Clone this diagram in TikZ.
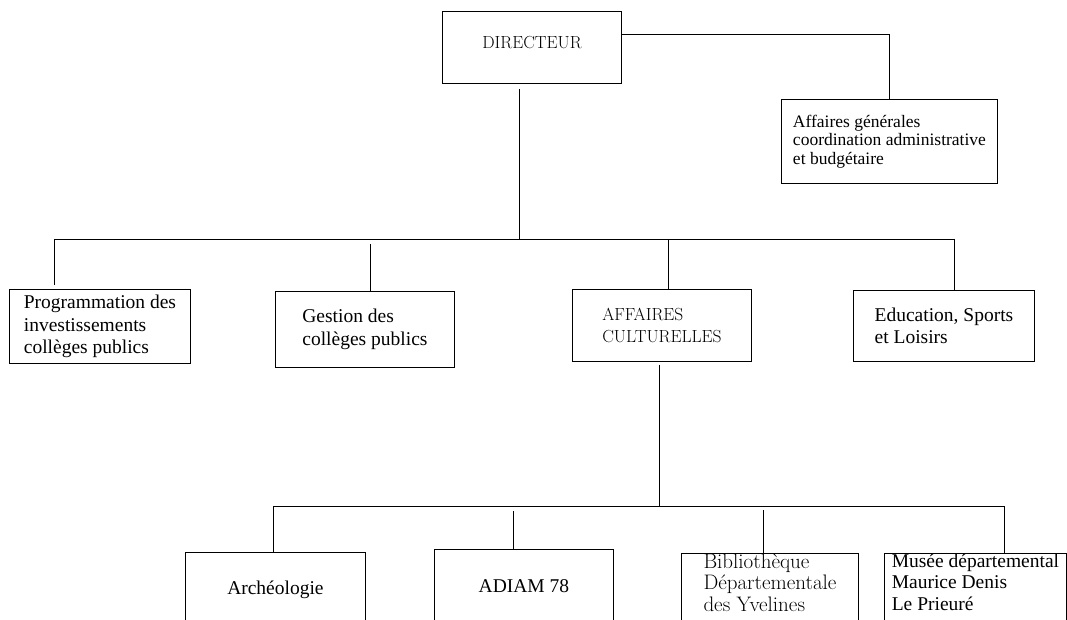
\documentclass[tikz,border=0pt]{standalone}
\usepackage{fontspec}
\newfontfamily\tnr{Liberation Serif}

\begin{document}
\begin{tikzpicture}[x=1pt, y=-1pt, line width=0.9pt,
    unit/.style={draw, anchor=north west, align=left, inner sep=0pt, font=\tnr\fontsize{19.5}{22.5}\selectfont},
    light/.style={unit, font=\fontsize{17.5}{21.7}\selectfont}]
    \useasboundingbox (0,0) rectangle (1067,620);
    \clip (0,0) rectangle (1067,620);

    \node[light, minimum width=179pt, minimum height=72pt, text depth=10pt] (dir) at (442,11) {DIRECTEUR};
    \node[unit, minimum width=216pt, minimum height=84pt, font=\tnr\fontsize{17.5}{18.5}\selectfont] (ag) at (781,99) {Affaires générales\\coordination administrative\\et budgétaire};

    \node[unit, minimum width=181pt, minimum height=74pt] (prog) at (9,289) {Programmation des\\investissements\\collèges publics};
    \node[unit, minimum width=179pt, minimum height=76pt] (gest) at (275,291) {Gestion des\\collèges publics};
    \node[light, minimum width=179pt, minimum height=72pt] (cult) at (572,289) {AFFAIRES\\CULTURELLES};
    \node[unit, minimum width=181pt, minimum height=71pt] (educ) at (853,290) {Education, Sports\\et Loisirs};

    \node[unit, minimum width=180pt, minimum height=74pt] (arch) at (185,552) {Archéologie};
    \node[unit, minimum width=179pt, minimum height=74pt] (adiam) at (434,549) {ADIAM 78};
    \node[light, minimum width=177pt, font=\fontsize{21}{21.7}\selectfont] (bib) at (681,553) {Bibliothèque\\Départementale\\des Yvelines\rule[-30pt]{0pt}{30pt}};
    \node[unit, minimum width=182pt, font=\tnr\fontsize{19.5}{21.7}\selectfont] (musee) at (884,553) {Musée départemental\\Maurice Denis\\Le Prieuré\rule[-30pt]{0pt}{30pt}};

    \coordinate (b1l) at (54,239);
    \coordinate (b1r) at (954,239);
    \coordinate (b2l) at (273,506);
    \coordinate (b2r) at (1004,506);
    \coordinate (dirout) at ([xshift=-12.5pt]dir.south);
    \coordinate (gestin) at ([xshift=5.5pt]gest.north);
    \coordinate (cultin) at ([xshift=6.5pt]cult.north);
    \coordinate (cultout) at ([xshift=-2.5pt]cult.south);
    \coordinate (adiamin) at ([xshift=-10.5pt]adiam.north);
    \coordinate (bibin) at ([xshift=-6.5pt]bib.north);

    \draw ([yshift=13pt]dir.east) -| (ag.north);
    \draw[shorten <=5pt] (dirout) -- (dirout |- b1l);
    \draw (b1l) -- (b1r);
    \draw[shorten >=4pt] (b1l) -- (b1l |- prog.north);
    \draw[shorten <=5pt] (gestin |- b1l) -- (gestin);
    \draw (cultin |- b1l) -- (cultin);
    \draw (b1r) -- (b1r |- educ.north);

    \draw[shorten <=3pt] (cultout) -- (cultout |- b2l);
    \draw (b2l) -- (b2r);
    \draw (b2l) -- (b2l |- arch.north);
    \draw[shorten <=5pt] (adiamin |- b2l) -- (adiamin);
    \draw[shorten <=4pt] (bibin |- b2l) -- (bibin);
    \draw (b2r) -- (b2r |- musee.north);
\end{tikzpicture}
\end{document}
